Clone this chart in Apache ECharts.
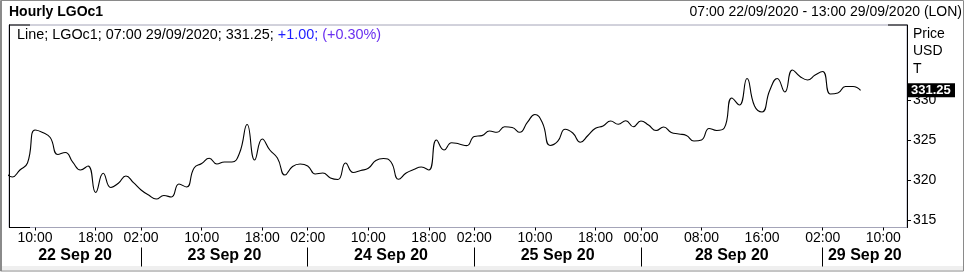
<!DOCTYPE html>
<html><head><meta charset="utf-8">
<script src="https://cdn.jsdelivr.net/npm/echarts@6/dist/echarts.min.js"></script>
<style>html,body{margin:0;padding:0;background:#fff}#c{width:967px;height:273px}</style>
</head><body><div id="c"></div>
<script>
// ---- data ----
const dayLabels = ['22 Sep 20','23 Sep 20','24 Sep 20','25 Sep 20','28 Sep 20','29 Sep 20'];
const dayKeys = ['22/09','23/09','24/09','25/09','28/09','29/09'];
const dayFirstHour = [6,2,2,2,0,2];
const dayLastHour = [23,23,23,23,23,13];
const timeTicks = ['22/09 10:00','22/09 18:00','23/09 02:00','23/09 10:00','23/09 18:00','24/09 02:00','24/09 10:00','24/09 18:00','25/09 02:00','25/09 10:00','25/09 18:00','28/09 00:00','28/09 08:00','28/09 16:00','29/09 02:00','29/09 10:00'];
const yTicks = [315,320,325,330];
const prices = [
  321.15,320.41,321.29,322.16,326.29,325.98,325.35,323.23,323.48,322.23,
  321.29,321.79,318.48,320.88,319.10,319.63,320.54,319.70,318.79,318.16,
  317.66,318.10,317.91,319.54,319.16,321.54,322.10,322.75,322.04,322.29,
  322.29,323.41,326.98,322.54,325.16,323.79,322.79,320.66,321.73,322.04,
  321.79,320.79,320.91,320.29,320.10,322.16,320.98,321.23,321.50,322.48,
  322.73,322.29,320.13,320.91,321.35,321.66,321.29,325.04,323.79,324.70,
  324.54,324.33,325.48,325.58,326.16,326.00,326.70,326.60,326.00,327.23,
  328.23,327.16,324.35,324.85,326.38,325.91,324.75,325.60,326.51,326.79,
  327.41,327.00,327.45,326.70,327.41,326.91,326.23,326.66,325.98,325.79,
  325.60,324.91,325.04,326.48,326.23,326.54,330.29,329.41,332.73,329.29,
  328.54,331.23,332.73,331.04,333.79,332.98,332.54,333.16,333.60,330.79,
  330.91,331.73,331.73,331.25
];
const lastPrice = 331.25;
const titleText = 'Hourly LGOc1';
const rangeText = '07:00 22/09/2020 - 13:00 29/09/2020 (LON)';
const legendParts = ['Line; LGOc1; 07:00 29/09/2020; 331.25; ', '+1.00;', ' (+0.30%)'];
const unitLines = ['Price','USD','T'];

// ---- build ----
const categories = [], dayStart = [];
dayKeys.forEach((d,k)=>{
  dayStart.push(categories.length);
  for(let h=dayFirstHour[k]; h<=dayLastHour[k]; h++) categories.push(d+' '+String(h).padStart(2,'0')+':00');
});
const xMin = 0.56, xMax = categories.length - 1 + 0.13;
const tickIdx = timeTicks.map(t=>categories.indexOf(t));
const bounds = [xMin, ...dayStart.slice(1), xMax];
const dayCenters = dayLabels.map((_,k)=>(bounds[k]+bounds[k+1])/2);
const FONT = '"Liberation Sans", Arial, sans-serif';

const chart = echarts.init(document.getElementById('c'), null, {renderer:'canvas'});
chart.setOption({
  animation:false,
  backgroundColor:'#fff',
  title:[
    {text:titleText,left:9,top:5,padding:0,textStyle:{fontFamily:FONT,fontSize:14,fontWeight:'bold',color:'#000'}},
    {text:rangeText,right:5,top:5,padding:0,textStyle:{fontFamily:FONT,fontSize:14,fontWeight:'normal',color:'#000'}},
    {text:'{a|'+legendParts[0]+'}{b|'+legendParts[1]+'}{c|'+legendParts[2]+'}',left:17,top:28,padding:0,
     textStyle:{fontFamily:FONT,fontSize:14,fontWeight:'normal',color:'#000',
       rich:{a:{fontFamily:FONT,fontSize:14.4,color:'#000'},b:{fontFamily:FONT,fontSize:14.4,color:'#1e1eff'},c:{fontFamily:FONT,fontSize:14.4,color:'#6a30f0'}}}},
    {text:unitLines.join('\n'),left:913,top:25,padding:0,textStyle:{fontFamily:FONT,fontSize:14,fontWeight:'normal',color:'#000',lineHeight:17.5}}
  ],
  grid:{left:9,right:60,top:25,bottom:45.5,show:true,borderColor:'#a4a4b8',borderWidth:1,backgroundColor:'#fff'},
  xAxis:[
    {type:'value',min:xMin,max:xMax,position:'bottom',
     axisLine:{show:false},splitLine:{show:false},
     axisTick:{show:true,customValues:tickIdx,length:3,lineStyle:{color:'#000'}},
     axisLabel:{show:true,customValues:tickIdx,margin:4,fontFamily:FONT,fontSize:14,color:'#000',
       formatter:v=>categories[Math.round(v)].slice(6)}},
    {type:'value',min:xMin,max:xMax,position:'bottom',offset:20,
     axisLine:{show:false},splitLine:{show:false},
     axisTick:{show:true,customValues:dayStart.slice(1),length:19,lineStyle:{color:'#000'}},
     axisLabel:{show:true,customValues:dayCenters,margin:0.5,fontFamily:FONT,fontSize:16,fontWeight:'bold',color:'#000',
       formatter:v=>{const k=dayCenters.findIndex(c=>Math.abs(c-v)<1e-6);return k>=0?dayLabels[k]:'';}}}
  ],
  yAxis:[
    {type:'value',position:'right',min:314.1,max:339.41,scale:true,
     axisLine:{show:true,lineStyle:{color:'#000'}},splitLine:{show:false},
     axisTick:{show:true,customValues:yTicks,length:4,lineStyle:{color:'#000'}},
     axisLabel:{show:true,customValues:yTicks,margin:6,fontFamily:FONT,fontSize:14,color:'#000'}},
    {type:'value',position:'left',min:314.1,max:339.41,
     axisLine:{show:true,lineStyle:{color:'#000'}},axisTick:{show:false},axisLabel:{show:false},splitLine:{show:false}}
  ],
  series:[{type:'line',xAxisIndex:0,yAxisIndex:0,data:prices.map((v,i)=>[i,v]),
    smooth:0.5,showSymbol:false,symbol:'none',clip:true,
    lineStyle:{color:'#000',width:1.1},emphasis:{disabled:true}}]
});

// decorations computed from the axes
const yL = chart.convertToPixel({yAxisIndex:0}, lastPrice);
const gx0 = chart.convertToPixel({xAxisIndex:0}, xMin);
const gx1 = chart.convertToPixel({xAxisIndex:0}, xMax);
const gyT = chart.convertToPixel({yAxisIndex:0}, 339.41);
const gyB = chart.convertToPixel({yAxisIndex:0}, 314.1);
chart.setOption({graphic:[
  {type:'rect',shape:{x:1,y:266,width:962,height:4},style:{fill:'#efefef'},z:-1,silent:true},
  {type:'rect',shape:{x:0.5,y:0.5,width:963,height:270.5},style:{fill:null,stroke:'#8a8a8a',lineWidth:1},silent:true},
  {type:'line',shape:{x1:1.5,y1:0,x2:1.5,y2:271},style:{stroke:'#8a8a8a',lineWidth:1},silent:true},
  {type:'line',shape:{x1:gx0,y1:gyT,x2:gx0+21,y2:gyT},style:{stroke:'#000',lineWidth:1},silent:true,z:50},
  {type:'line',shape:{x1:gx0,y1:gyB,x2:gx0+21,y2:gyB},style:{stroke:'#000',lineWidth:1},silent:true,z:50},
  {type:'line',shape:{x1:gx1-19,y1:gyT,x2:gx1,y2:gyT},style:{stroke:'#000',lineWidth:1},silent:true,z:50},
  {type:'group',z:100,children:[
    {type:'rect',shape:{x:gx1+1,y:yL-7,width:47,height:14},style:{fill:'#000'},z:100},
    {type:'text',x:gx1+4,y:yL,style:{text:lastPrice.toFixed(2),fill:'#fff',font:'bold 13px '+FONT,textVerticalAlign:'middle'},z:101}
  ]}
]});
</script></body></html>
